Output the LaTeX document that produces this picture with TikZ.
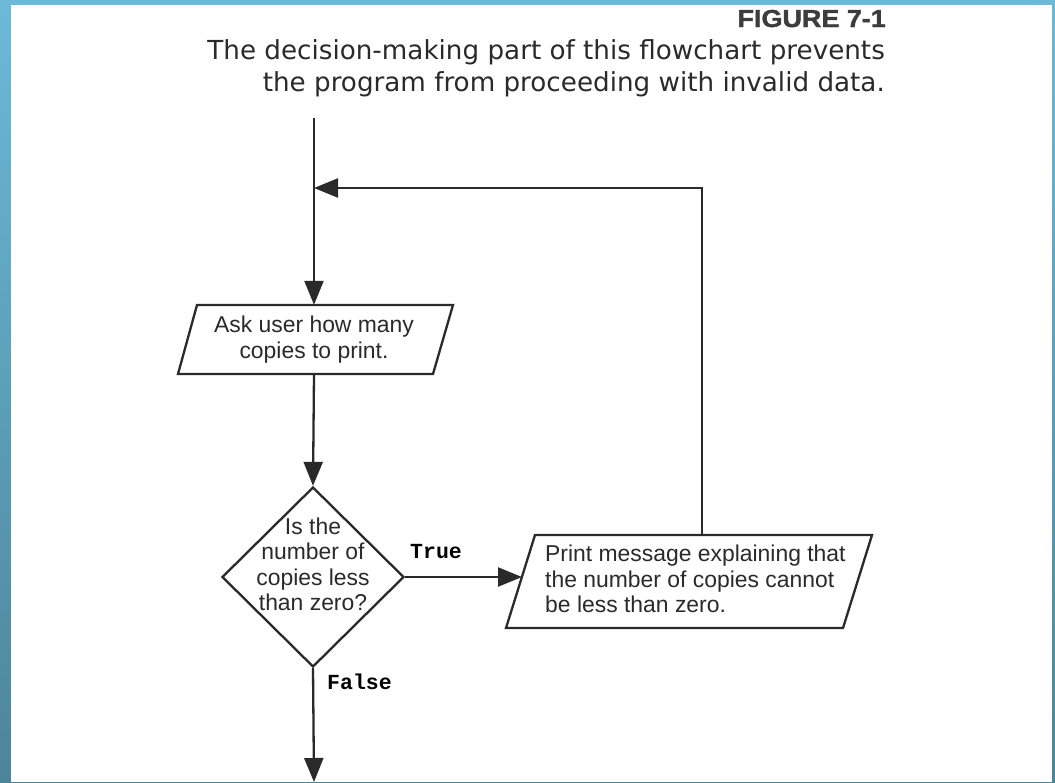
\documentclass[tikz,border=0pt]{standalone}
\usepackage{fontspec}
\setmainfont{Liberation Sans}
\newfontfamily\capfont{DejaVu Sans}
\newfontfamily\figfont{Liberation Sans Bold}[FakeStretch=1.1,FakeBold=1.6]
\newfontfamily\lblfont{Liberation Mono}
\usetikzlibrary{arrows.meta,shapes.geometric,calc}
\definecolor{ink}{HTML}{2A2A2A}
\definecolor{figink}{HTML}{3C3C3C}
\definecolor{frametop}{HTML}{6CB9D8}
\definecolor{framebot}{HTML}{4C8599}
\begin{document}
\begin{tikzpicture}[x=1pt,y=-1pt,
  flowline/.style={draw=ink,line width=2.3pt},
  arrow/.style={flowline,-{Triangle[length=24pt,width=19pt]}},
  flowtext/.style={inner sep=0pt,text=ink,align=center,font=\fontsize{22.9}{25.5}\selectfont},
  lbl/.style={inner sep=0pt,text=black,font=\lblfont\bfseries\fontsize{21.5}{23}\selectfont},
  captext/.style={inner sep=0pt,text=ink,anchor=base east,font=\capfont\fontsize{26.2}{30}\selectfont}]
\shade[top color=frametop,bottom color=framebot] (0,0) rectangle (1055,782);
\fill[white] (11,5) rectangle (1052,782);
\useasboundingbox (0,0) rectangle (1055,782);

% caption
\node[captext,font=\figfont\fontsize{24.5}{28}\selectfont,text=figink] (fig) at (886,27) {FIGURE 7-1};
\node[captext] (cap1) at (885,59) {The decision-making part of this flowchart prevents};
\node[captext] (cap2) at (885,91) {the program from proceeding with invalid data.};

% input box
\node[flowtext,minimum width=256pt,minimum height=69pt] (ask) at (314,339.5) {Ask user how many\\copies to print.};
\draw[flowline] (197,305) -- (453,305) -- (433,374) -- (178,374) -- cycle;

% decision
\node[diamond,draw=ink,line width=2.3pt,minimum width=182pt,minimum height=180pt,inner sep=0pt] (dec) at (313,577) {};
\node[flowtext] (dectext) at (313,564.5) {Is the\\number of\\copies less\\than zero?};

% print box
\node[flowtext,align=left,anchor=west] (print) at (545,579) {Print message explaining that\\the number of copies cannot\\be less than zero.};
\draw[flowline] (535,535) -- (872,535) -- (843,628) -- (506,628) -- cycle;
\coordinate (printin) at (522,577);
\coordinate (printtop) at (702,535);

% connectors
\coordinate (start) at (314,118);
\coordinate (join) at (314,188);
\coordinate (finish) at (314,782);
\draw[arrow] (start) -- (ask.north);
\draw[arrow] (ask.south) -- (dec.north);
\draw[arrow] (dec.east) -- (printin);
\draw[arrow] (printtop) |- (join);
\draw[arrow] (dec.south) -- (finish);

% labels
\node[lbl] (true) at (436,552) {True};
\node[lbl] (false) at (359.5,682) {False};
\end{tikzpicture}
\end{document}
